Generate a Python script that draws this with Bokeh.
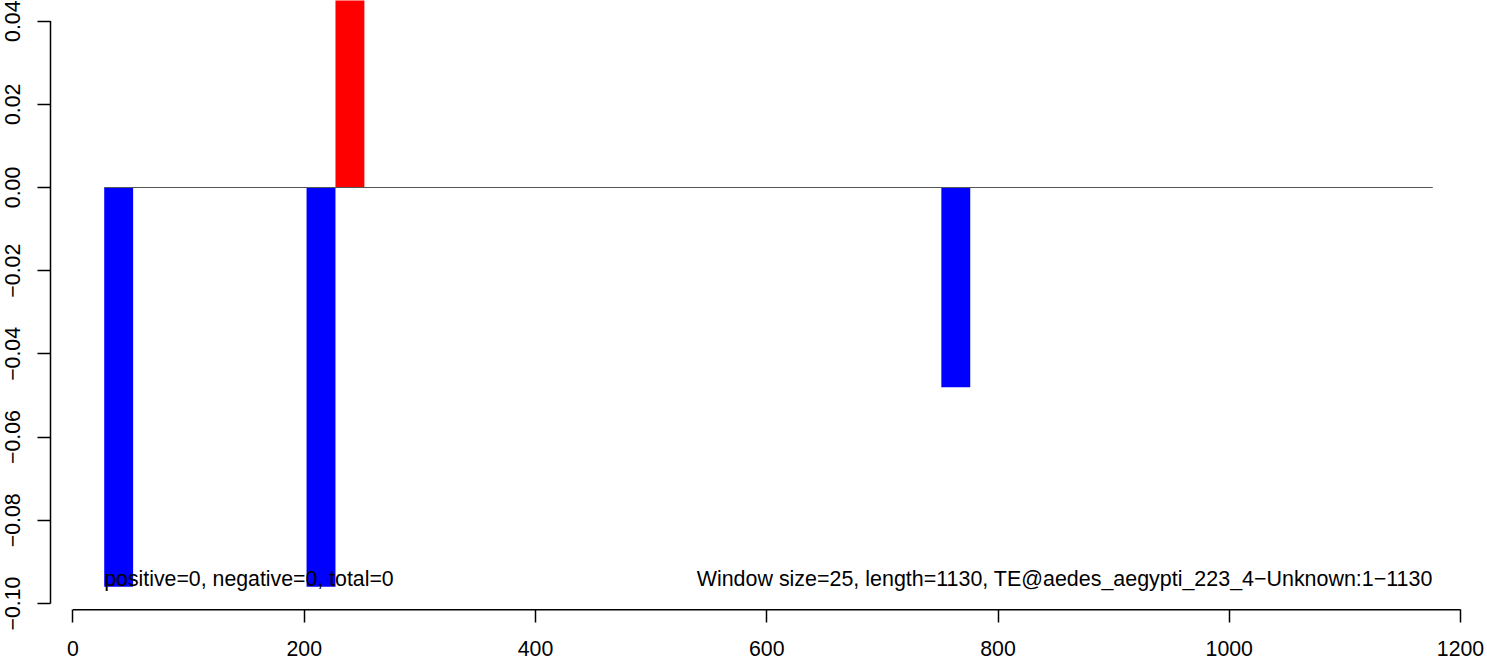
from bokeh.plotting import figure
from bokeh.models import Range1d, LinearAxis, FixedTicker, CustomJSTickFormatter
from bokeh.core.properties import value
from bokeh.embed import file_html
from bokeh.resources import INLINE

# ---- data ----
window_start = [27, 202, 227, 751]
window_size = 25
window_value = [-0.096, -0.096, 0.096, -0.048]
bar_colors = ["#0000FF", "#0000FF", "#FF0000", "#0000FF"]
zero_line_x = [27, 1176]
x_ticks = [0, 200, 400, 600, 800, 1000, 1200]
y_ticks = [-0.10, -0.08, -0.06, -0.04, -0.02, 0.00, 0.02, 0.04]
left_label = "positive=0, negative=0, total=0"
right_label = "Window size=25, length=1130, TE@aedes_aegypti_223_4\u2212Unknown:1\u22121130"

FONT = "Liberation Sans"
FS = "21.3px"

p = figure(width=1487, height=660, output_backend="svg", toolbar_location=None,
           x_axis_type=None, y_axis_type=None, min_border=0,
           x_range=Range1d(-62.70, 1223.35), y_range=Range1d(-0.113702, 0.044952))
p.outline_line_color = None
p.grid.visible = False
p.background_fill_color = "white"

# bars
rights = [s + window_size for s in window_start]
p.quad(left=window_start, right=rights, bottom=[0] * len(window_value), top=window_value,
       fill_color=bar_colors, line_color=None)

# zero line
p.line(x=zero_line_x, y=[0, 0], line_color="#555555", line_width=1.2)

# axes
x_axis_y = -0.10151
y_axis_x = -19.46

xax = LinearAxis(ticker=FixedTicker(ticks=x_ticks), fixed_location=x_axis_y)
xax.axis_line_color = None
xax.major_tick_in = 0
xax.major_tick_out = 13
xax.major_tick_line_width = 1.5
xax.minor_tick_line_color = None
xax.major_label_text_font = FONT
xax.major_label_text_font_size = FS
xax.major_label_text_color = "black"
xax.major_label_standoff = 18
p.add_layout(xax, "below")

yax = LinearAxis(ticker=FixedTicker(ticks=y_ticks), fixed_location=y_axis_x,
                 formatter=CustomJSTickFormatter(code="""
                     const s = Math.abs(tick).toFixed(2);
                     return (tick < -1e-9 ? '\\u2212' : '') + s;"""))
yax.axis_line_color = None
yax.major_tick_in = 0
yax.major_tick_out = 13
yax.major_tick_line_width = 1.5
yax.minor_tick_line_color = None
yax.major_label_text_font = FONT
yax.major_label_text_font_size = FS
yax.major_label_text_color = "black"
yax.major_label_orientation = "parallel"
yax.major_label_standoff = 17
p.add_layout(yax, "left")

# axis lines spanning the tick range only (R style)
p.segment(x0=[x_ticks[0]], y0=[x_axis_y], x1=[x_ticks[-1]], y1=[x_axis_y],
          line_color="black", line_width=1.5)
p.segment(x0=[y_axis_x], y0=[y_ticks[0]], x1=[y_axis_x], y1=[y_ticks[-1]],
          line_color="black", line_width=1.5)

# annotations
p.text(x=[27], y=[-0.0940], text=[left_label], text_font=value(FONT),
       text_font_size=FS, text_align="left", text_baseline="alphabetic", text_color="black")
p.text(x=[1176], y=[-0.0940], text=[right_label], text_font=value(FONT),
       text_font_size="21.45px", text_align="right", text_baseline="alphabetic", text_color="black")

open("out.html", "w").write(file_html(p, INLINE))
